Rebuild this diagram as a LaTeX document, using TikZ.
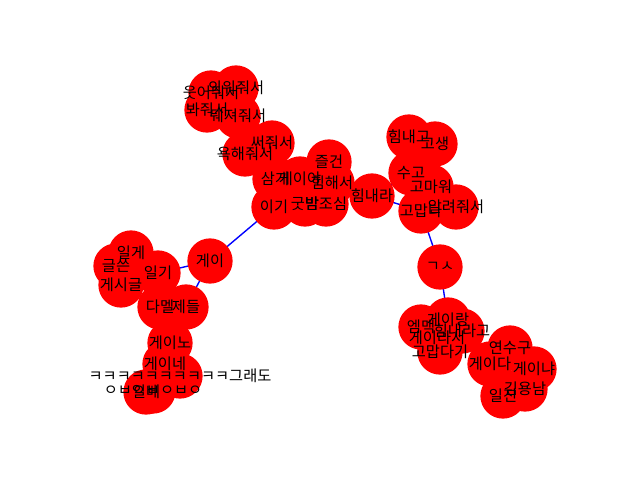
\documentclass[tikz,border=0pt]{standalone}
\usepackage{fontspec}
\newfontfamily\krfont{Noto Sans CJK KR}
\pgfdeclarelayer{bg}
\pgfsetlayers{bg,main}
\begin{document}
\begin{tikzpicture}[x=0.72pt,y=-0.72pt,
  dot/.style={circle,fill=red,draw=none,minimum size=32.6pt,inner sep=0pt},
  lab/.style={font=\krfont\fontsize{11pt}{12pt}\selectfont,text=black,inner sep=0pt},
  edge/.style={blue,line width=1pt}]
\useasboundingbox (0,0) rectangle (640,480);
\foreach \n/\px/\py in {a1/236/88,a2/211/93,a3/207/110,a4/238/116,a5/272/143,a6/245/154,
  b1/275/179,b2/300/179,b3/329/162,b4/332/183,b5/274/207,b6/305/204,b7/326/204,b8/372/196,
  c1/409/137,c2/435/144,c3/411/173,c4/431/187,c5/421/211,c6/456/207,
  d1/440/267,d2/448/320,d3/421/327,d4/462/331,d5/437/338,d6/440/352,d7/510/348,d8/490/364,d9/534/369,d10/525/389,d11/503/396,
  e1/210/261,e2/131/253,e3/116/266,e4/121/285,e5/158/273,e6/160/307,e7/186/307,e8/170/343,e9/165/364,e10/180/376,e11/153/391,e12/146/392}
  \node[dot] (\n) at (\px,\py) {};
\begin{pgfonlayer}{bg}
\foreach \u/\v in {a1/a2,a2/a3,a3/a4,a4/a6,a6/a5,a5/b2,
  b1/b2,b2/b3,b2/b4,b1/b5,b5/b6,b6/b7,b4/b8,b5/e1,
  b8/c3,b8/c5,c1/c2,c1/c3,c3/c4,c4/c5,c5/c6,c5/d1,
  d1/d2,d2/d3,d2/d4,d2/d5,d5/d6,d4/d8,d8/d7,d8/d11,d11/d10,d10/d9,
  e1/e5,e1/e7,e5/e2,e2/e3,e3/e4,e7/e6,e6/e8,e8/e9,e9/e10,e10/e11,e11/e12}
  \draw[edge] (\u.center) -- (\v.center);
\end{pgfonlayer}
\node[lab] (ta1) at (a1) {외워줘서};
\node[lab] (ta2) at (a2) {웃어줘서};
\node[lab] (ta3) at (a3) {봐줘서};
\node[lab] (ta4) at (a4) {뒈져줘서};
\node[lab] (ta5) at (a5) {써줘서};
\node[lab] (ta6) at (a6) {욕해줘서};
\node[lab] (tb1) at (b1) {삼게};
\node[lab] (tb2) at (b2) {게이야};
\node[lab] (tb3) at (b3) {즐건};
\node[lab] (tb4) at (b4) {힘해서};
\node[lab] (tb5) at (b5) {이기};
\node[lab] (tb6) at (b6) {굿밤};
\node[lab] (tb7) at (b7) {밤조심};
\node[lab] (tb8) at (b8) {힘내라};
\node[lab] (tc1) at (c1) {힘내고};
\node[lab] (tc2) at (c2) {고생};
\node[lab] (tc3) at (c3) {수고};
\node[lab] (tc4) at (c4) {고마워};
\node[lab] (tc5) at (c5) {고맙다};
\node[lab] (tc6) at (c6) {알려줘서};
\node[lab] (td1) at (d1) {ㄱㅅ};
\node[lab] (td2) at (d2) {게이랑};
\node[lab] (td3) at (d3) {엠맥};
\node[lab] (td4) at (d4) {힘내라고};
\node[lab] (td5) at (d5) {게이라서};
\node[lab] (td6) at (d6) {고맙다기};
\node[lab] (td7) at (d7) {연수구};
\node[lab] (td8) at (d8) {게이다};
\node[lab] (td9) at (d9) {게이냐};
\node[lab] (td10) at (d10) {김용남};
\node[lab] (td11) at (d11) {일진};
\node[lab] (te1) at (e1) {게이};
\node[lab] (te2) at (e2) {일게};
\node[lab] (te3) at (e3) {글쓴};
\node[lab] (te4) at (e4) {게시글};
\node[lab] (te5) at (e5) {일기};
\node[lab] (te6) at (e6) {다멜};
\node[lab] (te7) at (e7) {제들};
\node[lab] (te8) at (e8) {게이노};
\node[lab] (te9) at (e9) {게이네};
\node[lab] (te10) at (e10) {ㅋㅋㅋㅋㅋㅋㅋㅋㅋㅋ그래도};
\node[lab] (te11) at (e11) {ㅇㅂㅇㅂㅇㅂㅇ};
\node[lab] (te12) at (e12) {일베};
\end{tikzpicture}
\end{document}
